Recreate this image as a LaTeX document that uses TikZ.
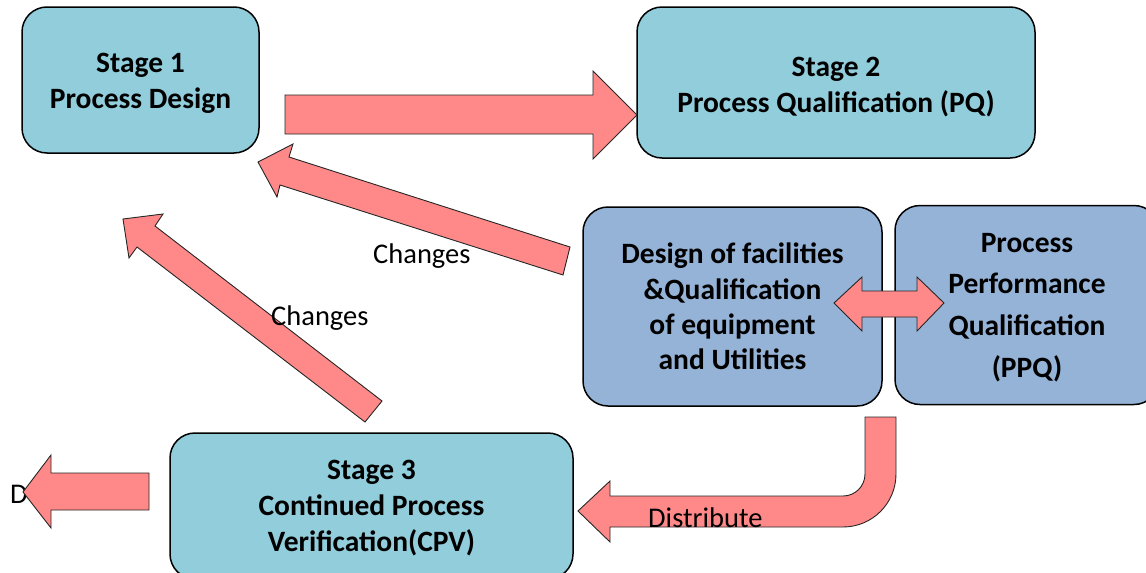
\documentclass[tikz,border=0pt]{standalone}
\usepackage{fontspec}
\setmainfont{Carlito}
\definecolor{stagefill}{RGB}{146,205,220}
\definecolor{subfill}{RGB}{149,179,215}
\definecolor{arrowfill}{RGB}{255,137,137}
\begin{document}
\begin{tikzpicture}[x=1pt,y=-1pt,
  stagebox/.style={draw=black, line width=1.5pt, fill=stagefill, rounded corners=25pt, inner sep=0pt},
  subbox/.style={draw=black, line width=1.5pt, fill=subfill, rounded corners=25pt, inner sep=0pt},
  boxtext/.style={align=center, inner sep=0pt, font=\fontsize{29.5}{36}\selectfont\bfseries},
  blockarrow/.style={draw=black!85, line width=0.9pt, fill=arrowfill, line join=miter},
  lbl/.style={inner sep=0pt, anchor=base west, font=\fontsize{28.5}{34}\selectfont}]
\useasboundingbox (0,0) rectangle (1146,573);
\clip (0,0) rectangle (1146,573);

% stage and sub-step boxes
\node[stagebox, minimum width=237pt, minimum height=146pt] (s1) at (140.5,80) {};
\node[stagebox, minimum width=398pt, minimum height=151pt] (s2) at (836,82.5) {};
\node[subbox, minimum width=299pt, minimum height=199pt] (fac) at (732.5,306.5) {};
\node[subbox, minimum width=264pt, minimum height=199pt] (ppq) at (1027,305) {};
\node[stagebox, minimum width=403pt, minimum height=146pt] (s3) at (371.5,506) {};

% box texts
\node[boxtext] (s1t) at ([yshift=-3pt]s1.center) {Stage 1\\Process Design};
\node[boxtext] (s2t) at ([yshift=-5pt]s2.center) {Stage 2\\Process Qualification (PQ)};
\node[boxtext, font=\fontsize{29.5}{35.4}\selectfont\bfseries] (fact) at (fac.center)
  {Design of facilities\\\&Qualification\\of equipment\\and Utilities};
\node[boxtext, font=\fontsize{29.5}{41.7}\selectfont\bfseries] (ppqt) at ([yshift=-2.5pt]ppq.center)
  {Process\\Performance\\Qualification\\(PPQ)};
\node[boxtext] (s3t) at ([yshift=-2pt]s3.center) {Stage 3\\Continued Process\\Verification(CPV)};

% label hidden behind the outgoing arrow
\node[lbl] (dlbl) at (10,503) {D};

% Stage 1 -> Stage 2
\path[blockarrow] (285,95) -- (593,95) -- (593,71) -- (637,115) -- (593,159) -- (593,134) -- (285,134) -- cycle;

% facilities -> Stage 1 (changes)
\path[blockarrow] (570,247) -- (289,157) -- (293,144) -- (258,162) -- (277,197) -- (280,185) -- (563,275) -- cycle;

% Stage 3 -> Stage 1 (changes)
\path[blockarrow] (382,401) -- (155,226) -- (163,214) -- (123,219) -- (129,258) -- (137,247) -- (365,422) -- cycle;

% facilities <-> PPQ
\path[blockarrow] (834,303) -- (862,277) -- (862,291) -- (917,291) -- (917,277) -- (944,303)
  -- (917,331) -- (917,317) -- (862,317) -- (862,331) -- cycle;

% distribute: down from the facilities box and left into Stage 3
\path[blockarrow] (865,417) -- (865,474) .. controls (865,486.2) and (855.2,496) .. (843,496)
  -- (610,496) -- (610,481) -- (578,511) -- (610,542) -- (610,527) -- (843,527)
  .. controls (872.3,527) and (896,503.3) .. (896,474) -- (896,417) -- cycle;

% Stage 3 outgoing arrow
\path[blockarrow] (149,473) -- (51,473) -- (51,455) -- (23,492) -- (51,528) -- (51,510) -- (149,510) -- cycle;

% connector labels
\node[lbl] (chg1) at (373,263) {Changes};
\node[lbl] (chg2) at (271,325) {Changes};
\node[lbl] (dist) at (648,527) {Distribute};
\end{tikzpicture}
\end{document}
